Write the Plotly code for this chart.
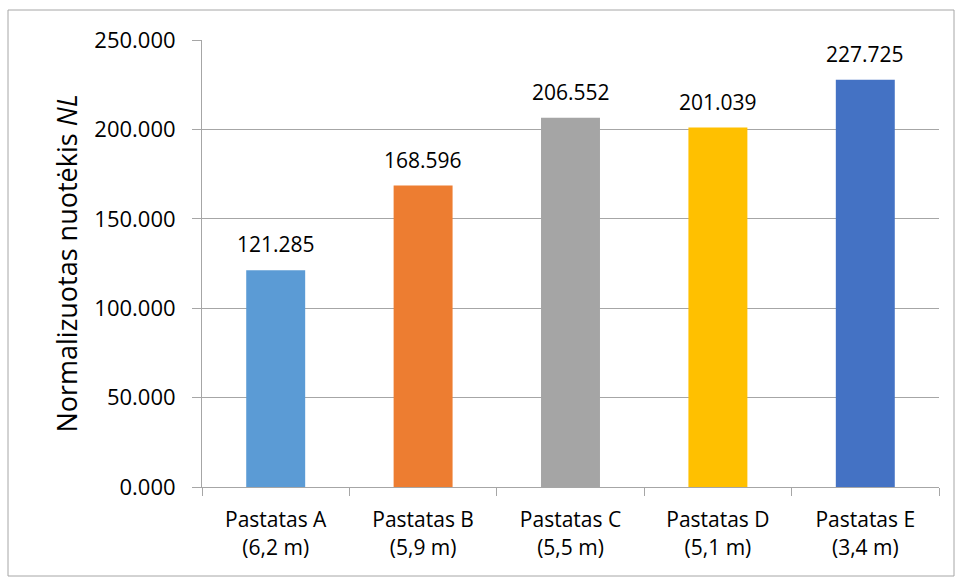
import plotly.graph_objects as go

categories = ["Pastatas A<br>(6,2 m)", "Pastatas B<br>(5,9 m)", "Pastatas C<br>(5,5 m)",
              "Pastatas D<br>(5,1 m)", "Pastatas E<br>(3,4 m)"]
values = [121.285, 168.596, 206.552, 201.039, 227.725]
colors = ["#5B9BD5", "#ED7D31", "#A5A5A5", "#FFC000", "#4472C4"]
y_ticks = [0, 50, 100, 150, 200, 250]

FONT = "Open Sans, Liberation Sans, sans-serif"

fig = go.Figure(go.Bar(
    x=categories, y=values, marker=dict(color=colors, line=dict(width=0)),
    hoverinfo="x+y",
))

for c, v in zip(categories, values):
    fig.add_annotation(x=c, y=v, text=f"{v:.3f}", showarrow=False,
                       yanchor="bottom", yshift=10,
                       font=dict(size=21, color="#000000", family=FONT))

W, H = 955, 577
L, R, T, B = 202, 16, 40, 90
pw, ph = W - L - R, H - T - B

def px(x):
    return (x - L) / pw

def py(y):
    return (H - B - y) / ph

fig.update_layout(
    width=W, height=H,
    margin=dict(l=L, r=R, t=T, b=B),
    paper_bgcolor="white", plot_bgcolor="white",
    bargap=0.6, showlegend=False,
    font=dict(family=FONT, color="#000000"),
    xaxis=dict(
        showline=True, linecolor="#a6a6a6", linewidth=1,
        ticks="outside", tickson="boundaries", ticklen=8, tickcolor="#a6a6a6",
        tickfont=dict(size=21, family=FONT), showgrid=False, ticklabelstandoff=14,
    ),
    yaxis=dict(
        range=[0, 250], tickvals=y_ticks, tickformat=".3f",
        showline=True, linecolor="#a6a6a6", linewidth=1,
        ticks="outside", ticklen=9, tickcolor="#a6a6a6",
        showgrid=True, gridcolor="#a6a6a6", gridwidth=1,
        tickfont=dict(size=22, family=FONT), zeroline=False, ticklabelstandoff=12,
        title=dict(text="Normalizuotas nuotėkis <i>NL</i>", font=dict(size=27, family=FONT), standoff=8),
    ),
    shapes=[dict(type="rect", xref="paper", yref="paper",
                 x0=px(8), x1=px(954), y0=py(576), y1=py(10),
                 line=dict(color="#a6a6a6", width=1), fillcolor="rgba(0,0,0,0)", layer="below")],
)

fig.write_html("out.html")
